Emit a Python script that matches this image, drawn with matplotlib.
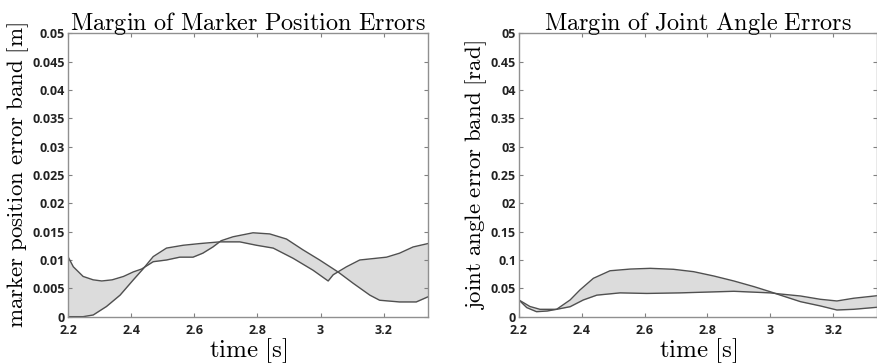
import matplotlib
matplotlib.use('Agg')
import numpy as np
import matplotlib.pyplot as plt

plt.rcParams['mathtext.fontset'] = 'cm'
plt.rcParams['font.family'] = ['Open Sans', 'DejaVu Sans']

# Left panel: marker position error band (two boundary curves)
pos_t_a = [2.2, 2.217, 2.248, 2.28, 2.307, 2.34, 2.376, 2.407, 2.433, 2.47, 2.512, 2.554,
           2.596, 2.627, 2.659, 2.685, 2.723, 2.786, 2.839, 2.892, 2.944, 2.997, 3.055,
           3.103, 3.156, 3.187, 3.25, 3.303, 3.34]
pos_a = [0.0106, 0.0088, 0.0071, 0.0065, 0.0063, 0.0065, 0.0071, 0.0079, 0.0084, 0.0097,
         0.0100, 0.0105, 0.0105, 0.0112, 0.0123, 0.0134, 0.0141, 0.0148, 0.0146, 0.0137,
         0.0118, 0.0100, 0.0079, 0.0059, 0.0038, 0.0029, 0.0026, 0.0026, 0.0035]

pos_t_b = [2.2, 2.248, 2.28, 2.322, 2.365, 2.407, 2.439, 2.47, 2.512, 2.565, 2.618, 2.681,
           2.744, 2.797, 2.85, 2.913, 2.976, 3.024, 3.04, 3.082, 3.124, 3.209, 3.25,
           3.293, 3.34]
pos_b = [0.0, 0.0, 0.0003, 0.0018, 0.0038, 0.0065, 0.0085, 0.0106, 0.0121, 0.0126, 0.0129,
         0.0132, 0.0132, 0.0126, 0.0121, 0.0103, 0.0082, 0.0063, 0.0074, 0.0088, 0.0100,
         0.0105, 0.0112, 0.0123, 0.0129]

# Right panel: joint angle error band
ang_t_a = [2.2, 2.225, 2.256, 2.29, 2.32, 2.363, 2.394, 2.437, 2.49, 2.554, 2.618, 2.692,
           2.756, 2.82, 2.884, 2.948, 3.0, 3.032, 3.096, 3.159, 3.212, 3.265, 3.34]
ang_a = [0.0295, 0.016, 0.0088, 0.010, 0.013, 0.0295, 0.047, 0.0677, 0.081, 0.084, 0.0853,
         0.0836, 0.0794, 0.0718, 0.063, 0.053, 0.044, 0.038, 0.0265, 0.019, 0.0118,
         0.013, 0.0166]

ang_t_b = [2.2, 2.235, 2.267, 2.32, 2.363, 2.405, 2.448, 2.522, 2.607, 2.713, 2.884, 3.0,
           3.032, 3.096, 3.159, 3.212, 3.265, 3.34]
ang_b = [0.0295, 0.018, 0.013, 0.013, 0.0176, 0.0295, 0.038, 0.042, 0.041, 0.042, 0.0448,
         0.042, 0.040, 0.0365, 0.0307, 0.0277, 0.0325, 0.037]

x_ticks = [2.2, 2.4, 2.6, 2.8, 3.0, 3.2]
x_tick_labels = ['2.2', '2.4', '2.6', '2.8', '3', '3.2']
pos_yticks = [0, 0.005, 0.01, 0.015, 0.02, 0.025, 0.03, 0.035, 0.04, 0.045, 0.05]
pos_ylabels = ['0', '0.005', '0.01', '0.015', '0.02', '0.025', '0.03', '0.035', '0.04', '0.045', '0.05']
ang_yticks = [0, 0.05, 0.1, 0.15, 0.2, 0.25, 0.3, 0.35, 0.4, 0.45, 0.5]
ang_ylabels = ['0', '0.05', '0.1', '0.15', '02', '0.25', '03', '0.35', '04', '0.45', '05']

fig = plt.figure(figsize=(8.78, 3.64), dpi=100)
ax1 = fig.add_axes([0.0774, 0.13, 0.41, 0.7786])
ax2 = fig.add_axes([0.591, 0.13, 0.408, 0.7786])

line_col = '#505050'
fill_col = '#dcdcdc'


def draw_band(ax, ta, a, tb, b):
    grid = np.union1d(ta, tb)
    ya = np.interp(grid, ta, a)
    yb = np.interp(grid, tb, b)
    ax.fill_between(grid, ya, yb, color=fill_col, lw=0)
    ax.plot(ta, a, color=line_col, lw=1.0)
    ax.plot(tb, b, color=line_col, lw=1.0)


draw_band(ax1, pos_t_a, pos_a, pos_t_b, pos_b)
draw_band(ax2, ang_t_a, ang_a, ang_t_b, ang_b)

panels = [
    (ax1, pos_yticks, pos_ylabels, 0.05,
     r'$\mathrm{Margin\ of\ Marker\ Position\ Errors}$',
     r'$\mathrm{marker\ position\ error\ band\ [m]}$'),
    (ax2, ang_yticks, ang_ylabels, 0.5,
     r'$\mathrm{Margin\ of\ Joint\ Angle\ Errors}$',
     r'$\mathrm{joint\ angle\ error\ band\ [rad]}$'),
]

for ax, yt, yl, ymax, title, ylabel in panels:
    ax.set_xlim(2.2, 3.34)
    ax.set_ylim(0, ymax)
    ax.set_xticks(x_ticks)
    ax.set_xticklabels(x_tick_labels)
    ax.set_yticks(yt)
    ax.set_yticklabels(yl)
    ax.tick_params(direction='in', top=True, right=True, length=3, width=0.8,
                   color='#808080', labelsize=9, pad=2)
    ax.tick_params(axis='x', pad=5)
    for lab in ax.get_xticklabels() + ax.get_yticklabels():
        lab.set_fontweight('bold')
        lab.set_color('#222222')
    for s in ax.spines.values():
        s.set_color('#909090')
        s.set_linewidth(1.0)
    ax.set_title(title, fontsize=17.5, pad=2)
    ax.set_ylabel(ylabel, fontsize=16.5, labelpad=1)
    ax.set_xlabel(r'$\mathrm{time\ [s]}$', fontsize=18, labelpad=0)

fig.savefig('out.png', dpi=100)
